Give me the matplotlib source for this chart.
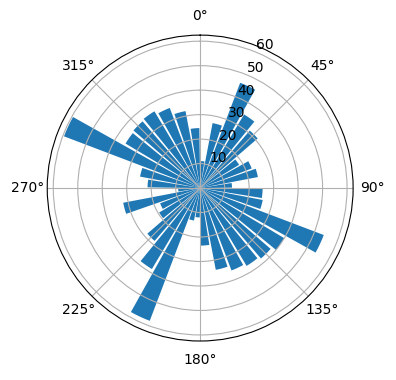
import numpy as np
import matplotlib
matplotlib.use("Agg")
import matplotlib.pyplot as plt

# bar directions in degrees (clockwise from north) and their lengths
angles_deg = [5, 15, 25, 35, 45, 55, 65, 75, 85,
              95, 105, 115, 125, 135, 145, 155, 165, 175,
              185, 195, 205, 215, 225, 235, 245, 255, 265,
              275, 285, 295, 305, 315, 325, 335, 345, 355]
lengths = [11, 27, 46, 35, 31, 18.5, 22.5, 24, 13,
           25.5, 26, 54, 40, 38, 37, 36, 34, 23.5,
           12, 13.5, 58, 38.5, 28.5, 19.5, 17.5, 32, 9,
           21.5, 25, 59.5, 35.5, 36, 36.5, 35, 32, 24.5]

theta = np.deg2rad(angles_deg)
width = np.deg2rad(8.4)

fig = plt.figure(figsize=(3.96, 3.8), dpi=100)
ax = fig.add_axes([0.119, 0.1026, 0.773, 0.805], projection='polar')
ax.set_theta_zero_location('N')
ax.set_theta_direction(-1)

ax.bar(theta, lengths, width=width, color='C0')
ax.set_rticks([10, 20, 30, 40, 50, 60])

fig.savefig("out.png", dpi=100)
